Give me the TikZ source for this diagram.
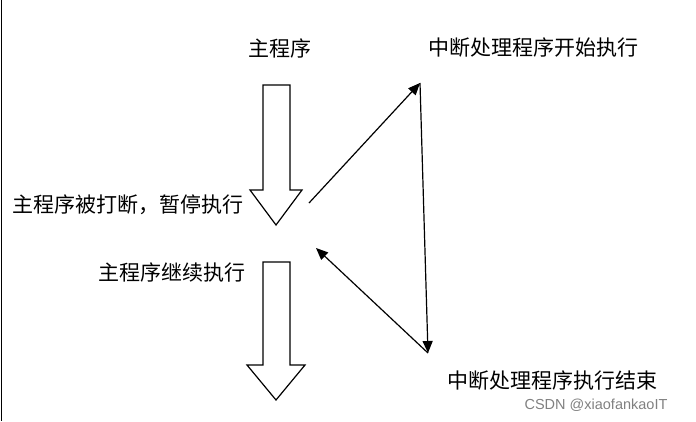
\documentclass[tikz,border=0pt]{standalone}
\usepackage{fontspec}
\newfontfamily\cjk{Noto Sans CJK SC}
\usetikzlibrary{arrows.meta}
\begin{document}
\begin{tikzpicture}[x=1pt, y=-1pt, >={Triangle[length=12pt, width=10pt]},
	label/.style={font=\cjk\fontsize{21}{24}\selectfont, inner sep=0pt},
	blockarrow/.style={draw, line width=1.2pt, fill=white, line join=miter},
	link/.style={->, line width=1.2pt}]
	\useasboundingbox (0,0) rectangle (696,421);
	\draw[line width=0.8pt] (1,0) -- (1,421);
	% Labels
	\node[label] (main) at (280,48) {主程序};
	\node[label] (isrbeg) at (533,48) {中断处理程序开始执行};
	\node[label] (pause) at (128,205) {主程序被打断，暂停执行};
	\node[label] (resume) at (172,272) {主程序继续执行};
	\node[label] (isrend) at (552,381) {中断处理程序执行结束};
	\node[font=\fontspec{Liberation Sans}\fontsize{14.5}{16}\selectfont, text=gray, inner sep=0pt] (mark) at (596,405) {CSDN @xiaofankaoIT};
	% Block arrows
	\draw[blockarrow] (263,85) -- (290,85) -- (290,190) -- (302,190) -- (276,225) -- (250,190) -- (263,190) -- cycle;
	\draw[blockarrow] (263,262) -- (290,262) -- (290,365) -- (305,365) -- (276,400) -- (247,365) -- (263,365) -- cycle;
	% Connectors
	\coordinate (a) at (309,203);
	\coordinate (b) at (420,83);
	\coordinate (c) at (428,353);
	\coordinate (d) at (316,248);
	\draw[link] (a) -- (b);
	\draw[link] (b) -- (c);
	\draw[link] (c) -- (d);
\end{tikzpicture}
\end{document}
